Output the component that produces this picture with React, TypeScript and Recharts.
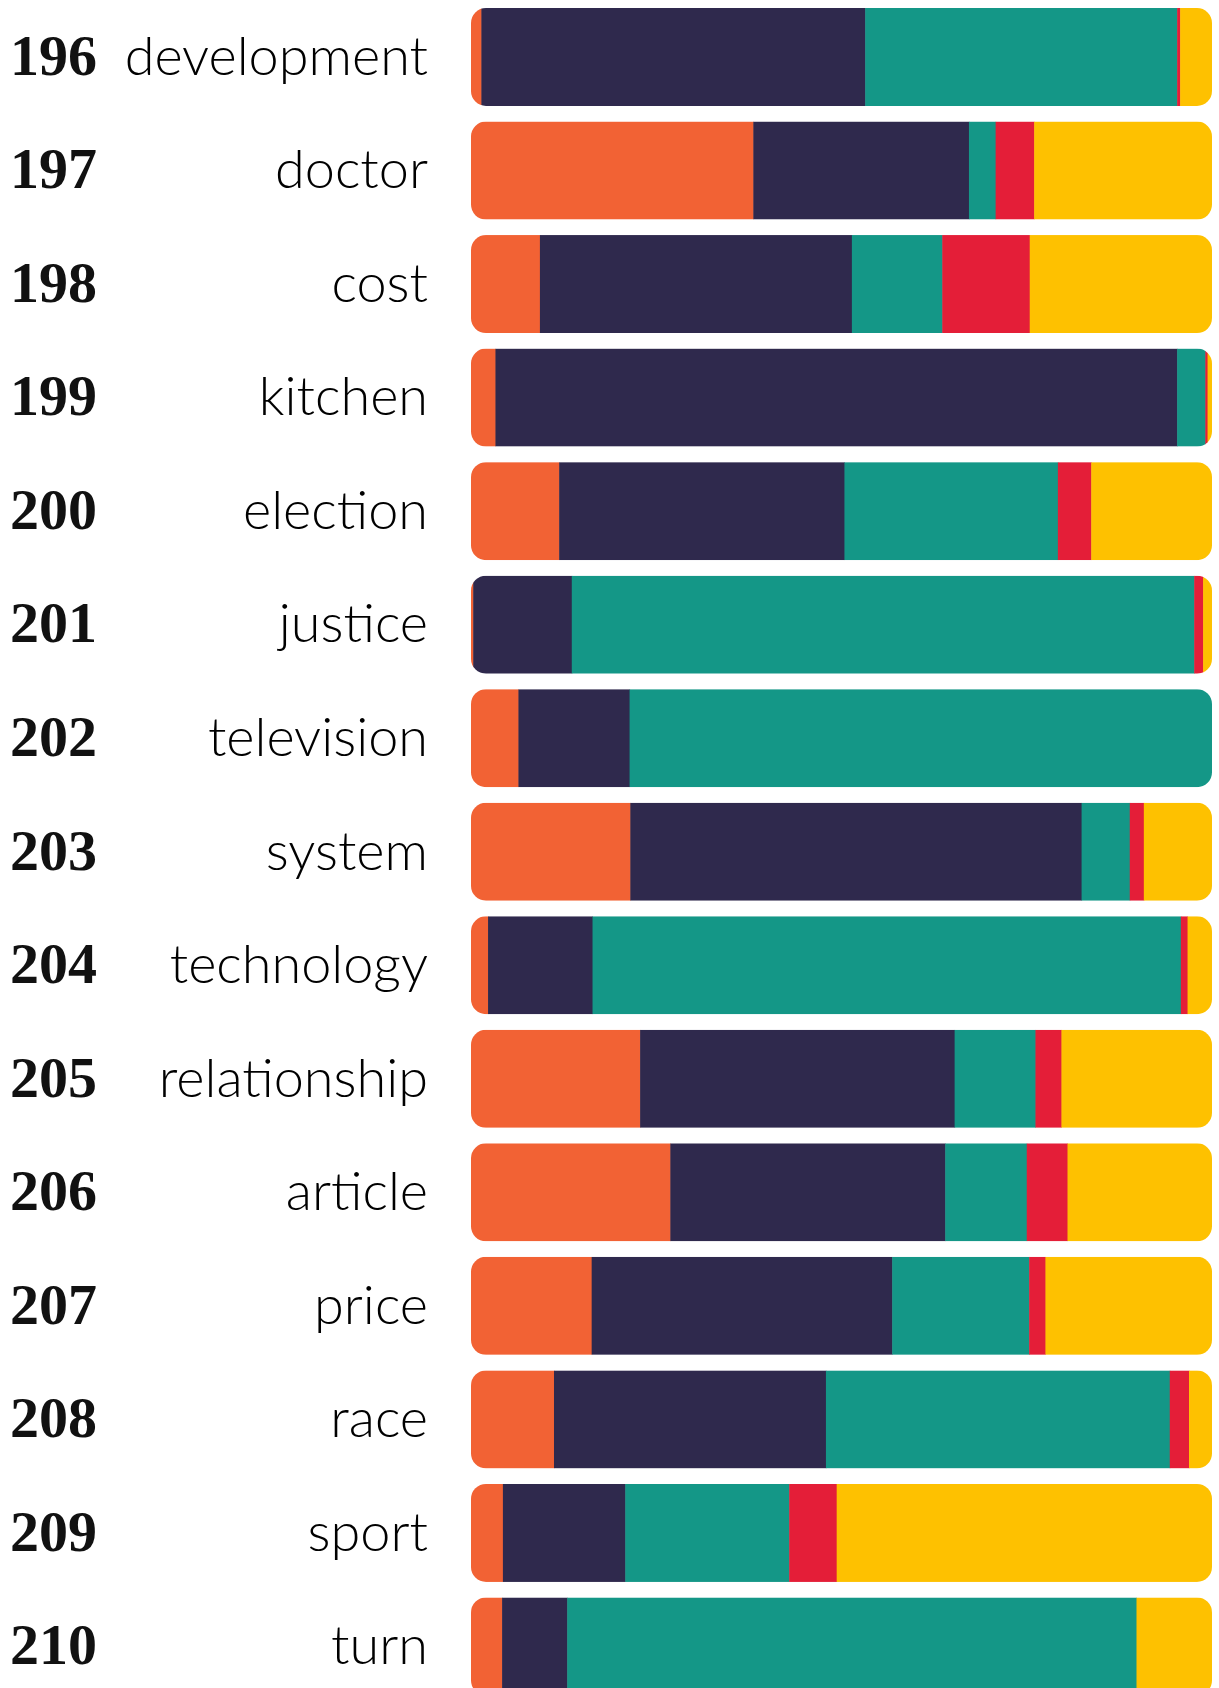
import React from "react";
import { Bar, BarChart, XAxis, YAxis } from "recharts";

const words = [
  "development", "doctor", "cost", "kitchen", "election", "justice", "television",
  "system", "technology", "relationship", "article", "price", "race", "sport", "turn",
];
const ranks = [196, 197, 198, 199, 200, 201, 202, 203, 204, 205, 206, 207, 208, 209, 210];

// share of each segment, percent, left to right
const orangeShare = [1.4, 38.1, 9.3, 3.3, 11.9, 0.3, 6.4, 21.5, 2.3, 22.8, 26.9, 16.3, 11.2, 4.3, 4.2];
const navyShare = [51.8, 29.1, 42.1, 92.0, 38.5, 13.3, 15.0, 60.9, 14.1, 42.4, 37.1, 40.6, 36.7, 16.5, 8.8];
const tealShare = [42.1, 3.6, 12.2, 3.8, 28.8, 84.0, 78.6, 6.5, 79.4, 10.9, 11.0, 18.5, 46.4, 22.1, 76.9];
const redShare = [0.4, 5.2, 11.8, 0.3, 4.5, 1.2, 0, 1.9, 0.9, 3.5, 5.5, 2.2, 2.6, 6.4, 0];
const yellowShare = [4.3, 24.0, 24.6, 0.6, 16.3, 1.2, 0, 9.2, 3.3, 20.3, 19.5, 22.5, 3.1, 50.6, 10.2];

const data = words.map((word, i) => ({
  word,
  rank: ranks[i],
  orange: orangeShare[i],
  navy: navyShare[i],
  teal: tealShare[i],
  red: redShare[i],
  yellow: yellowShare[i],
}));

const series = [
  { key: "orange", color: "#F26234" },
  { key: "navy", color: "#2F294D" },
  { key: "teal", color: "#149787" },
  { key: "red", color: "#E41E38" },
  { key: "yellow", color: "#FEC100" },
];

const AXIS_W = 471;
const CHART_W = 1219;
const RIGHT = 7;

function clippedShape(key: string) {
  return (props: any) => {
    const { x, y, width, height, fill, index } = props;
    if (!width || width <= 0) return <g />;
    const bg = props.background || { x: AXIS_W, width: CHART_W - AXIS_W - RIGHT };
    const id = `clip-${key}-${index}`;
    return (
      <g>
        <defs>
          <clipPath id={id}>
            <rect x={bg.x} y={y} width={bg.width} height={height} rx={15} ry={15} />
          </clipPath>
        </defs>
        <rect x={x} y={y} width={width + 0.5} height={height} fill={fill} clipPath={`url(#${id})`} />
      </g>
    );
  };
}

function WordTick(props: any) {
  const { y, payload } = props;
  const row = data[payload.index];
  return (
    <g>
      <text
        x={10}
        y={y + 18}
        fontFamily="Liberation Serif, serif"
        fontWeight={700}
        fontSize={58}
        fill="#111"
      >
        {row.rank}
      </text>
      <text
        x={428}
        y={y + 18}
        textAnchor="end"
        fontFamily="Lato, sans-serif"
        fontWeight={300}
        fontSize={54}
        fill="#000"
      >
        {row.word}
      </text>
    </g>
  );
}

export default function App() {
  return (
    <div style={{ position: "absolute", left: 0, top: 0, background: "#fff" }}>
      <BarChart
        width={CHART_W}
        height={1703}
        data={data}
        layout="vertical"
        stackOffset="expand"
        barSize={98}
        margin={{ top: 0, right: RIGHT, bottom: 0, left: 0 }}
      >
        <XAxis type="number" hide domain={[0, 1]} />
        <YAxis
          type="category"
          dataKey="word"
          width={AXIS_W}
          axisLine={false}
          tickLine={false}
          interval={0}
          tick={<WordTick />}
        />
        {series.map((s) => (
          <Bar
            key={s.key}
            dataKey={s.key}
            stackId="a"
            fill={s.color}
            shape={clippedShape(s.key)}
            isAnimationActive={false}
          />
        ))}
      </BarChart>
    </div>
  );
}
